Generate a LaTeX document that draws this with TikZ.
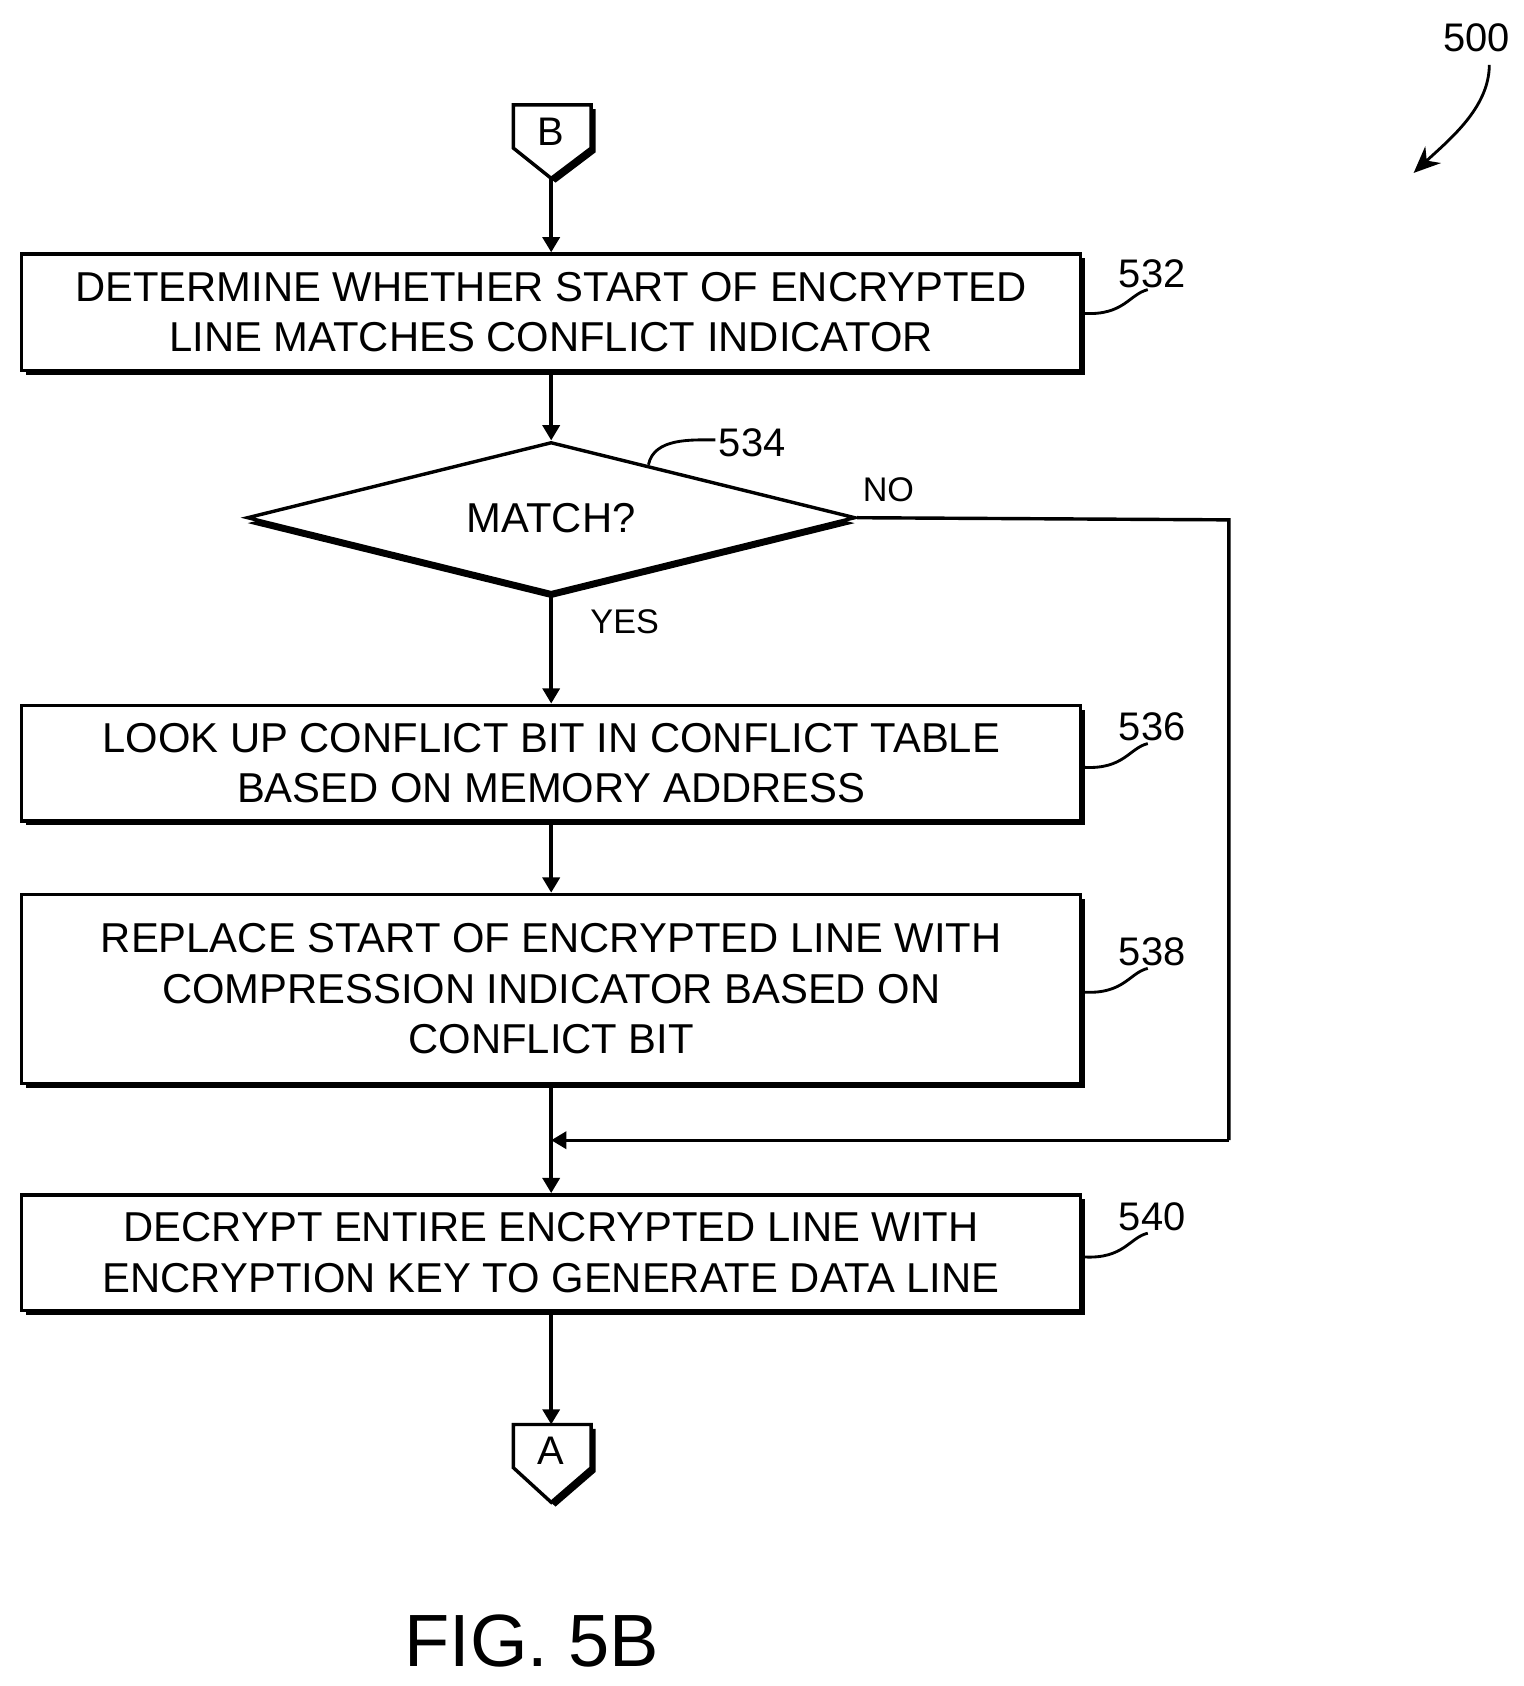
\documentclass[tikz,border=0pt]{standalone}
\usepackage{fontspec}
\setmainfont{Liberation Sans}
\usetikzlibrary{shapes.geometric,shadows,arrows.meta,positioning}

\tikzset{
  box/.style={draw,line width=1.8pt,fill=white,minimum width=19.6cm,align=center,
    font=\fontsize{22}{26.5}\selectfont,
    drop shadow={shadow xshift=0.08cm,shadow yshift=-0.08cm,fill=black,opacity=1}},
  flow/.style={line width=1.8pt,-{Triangle[length=8pt,width=9pt]}},
  tag/.style={font=\fontsize{21}{24}\selectfont},
  lead/.style={line width=1.5pt}
}

\begin{document}
\begin{tikzpicture}[x=0.02cm,y=-0.02cm]
  \useasboundingbox (0,0) rectangle (1410,1560);

  % Off-page connectors
  \fill (479,101) -- (551,101) -- (551,141) -- (514,169) -- (479,141) -- cycle;
  \draw[line width=1.8pt,fill=white] (475,97) -- (547,97) -- (547,137) -- (510,165) -- (475,137) -- cycle;
  \node[tag] (conB) at (510,122) {B};
  \coordinate (conBtip) at (510,165);

  \fill (479,1322) -- (551,1322) -- (551,1362) -- (514,1394) -- (479,1362) -- cycle;
  \draw[line width=1.8pt,fill=white] (475,1318) -- (547,1318) -- (547,1358) -- (510,1390) -- (475,1358) -- cycle;
  \node[tag] (conA) at (510,1342) {A};
  \coordinate (conAtop) at (510,1318);

  % Steps
  \node[box,minimum height=2.16cm] (s532) at (510,289) {DETERMINE WHETHER START OF ENCRYPTED\\LINE MATCHES CONFLICT INDICATOR};
  \node[draw,diamond,line width=1.8pt,fill=white,aspect=4,minimum width=11.26cm,minimum height=2.8cm,inner sep=0pt,
    font=\fontsize{22}{26}\selectfont,
    drop shadow={shadow xshift=0cm,shadow yshift=-0.1cm,fill=black,opacity=1}] (d534) at (510,479) {MATCH?};
  \node[box,minimum height=2.14cm] (s536) at (510,706) {LOOK UP CONFLICT BIT IN CONFLICT TABLE\\BASED ON MEMORY ADDRESS};
  \node[box,minimum height=3.5cm] (s538) at (510,915) {REPLACE START OF ENCRYPTED LINE WITH\\COMPRESSION INDICATOR BASED ON\\CONFLICT BIT};
  \node[box,minimum height=2.14cm] (s540) at (510,1159) {DECRYPT ENTIRE ENCRYPTED LINE WITH\\ENCRYPTION KEY TO GENERATE DATA LINE};
  \coordinate (join) at (510,1055);
  \coordinate (noA) at (1137,481);
  \coordinate (noB) at (1137,1055);

  % Connectors
  \draw[flow] (conBtip) -- (s532);
  \draw[flow] (s532) -- (d534);
  \draw[flow] (d534) -- (s536);
  \draw[flow] (s536) -- (s538);
  \draw[line width=1.8pt] (s538) -- (join);
  \draw[flow] (join) -- (s540);
  \draw[flow] (s540) -- (conAtop);
  \draw[line width=1.8pt] (d534.east) -- (noA) -- (noB);
  \draw[flow] (noB) -- (join);
  \node[tag,font=\fontsize{18}{20}\selectfont] (no) at (822,453) {NO};
  \node[tag,font=\fontsize{18}{20}\selectfont] (yes) at (578,575) {YES};

  % Reference numerals
  \node[tag] (r532) at (1066,253) {532};
  \node[tag] (r534) at (696,410) {534};
  \node[tag] (r536) at (1066,672) {536};
  \node[tag] (r538) at (1066,881) {538};
  \node[tag] (r540) at (1066,1126) {540};
  \node[tag] (r500) at (1366,35) {500};
  \draw[lead] (1003,290) .. controls (1040,292) and (1045,272) .. (1062,268);
  \draw[lead] (1003,710) .. controls (1040,712) and (1045,692) .. (1062,688);
  \draw[lead] (1003,918) .. controls (1040,920) and (1045,900) .. (1062,896);
  \draw[lead] (1003,1163) .. controls (1040,1165) and (1045,1145) .. (1062,1141);
  \draw[lead] (600,430) .. controls (605,405) and (640,407) .. (662,407);
  \draw[lead,-{Stealth[length=14pt,width=12pt]}] (1378,60) .. controls (1378,100) and (1340,130) .. (1308,160);

  \node[font=\fontsize{39}{44}\selectfont] (fig) at (492,1518) {FIG. 5B};
\end{tikzpicture}
\end{document}
